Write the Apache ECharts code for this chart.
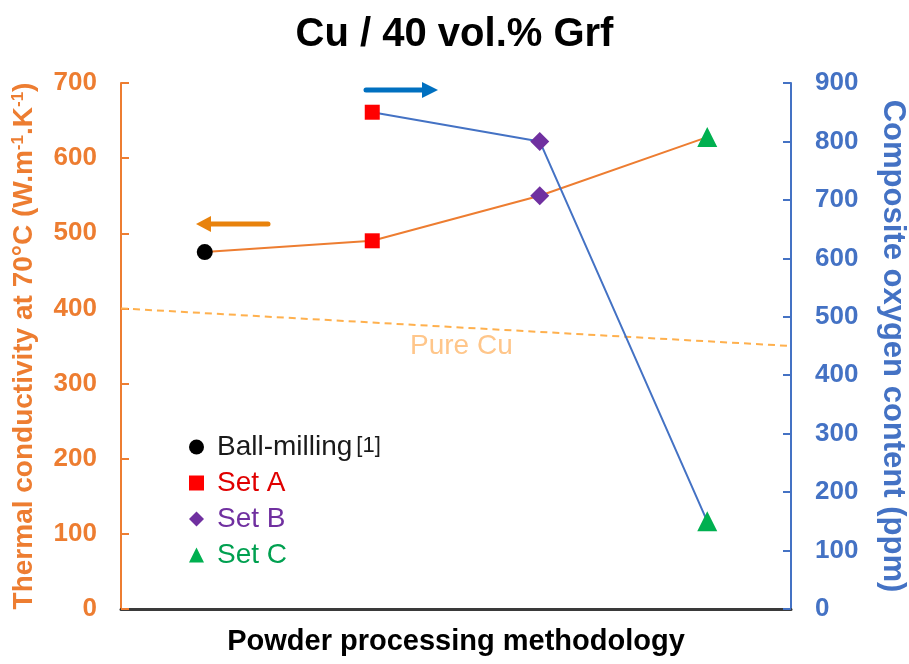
<!DOCTYPE html>
<html>
<head>
<meta charset="utf-8">
<title>Cu / 40 vol.% Grf</title>
<script src="https://cdn.jsdelivr.net/npm/echarts@6/dist/echarts.min.js"></script>
<style>
  html, body { margin: 0; padding: 0; background: #fff; }
  #chart { width: 909px; height: 664px; }
</style>
</head>
<body>
<div id="chart"></div>
<script>
  // values
  const categories = ['Ball-milling', 'Set A', 'Set B', 'Set C'];
  const conductivity = [475, 490, 550, 628]; // left axis, W.m-1.K-1
  const oxygen = [null, 850, 800, 150]; // right axis, ppm
  const pureCu = [400, 350]; // dashed "Pure Cu" line, left end / right end
  const leftMax = 700;
  const rightMax = 900;
  const tickStep = 100;

  const ORANGE = '#ED7D31';
  const BLUE = '#4472C4';
  const FONT = 'Liberation Sans, Arial, sans-serif';

  const markers = [
    { symbol: 'circle', size: 16, color: '#000000', text: '#1a1a1a' },
    { symbol: 'rect', size: 15, color: '#FF0000', text: '#E00000' },
    { symbol: 'diamond', size: 19, color: '#7030A0', text: '#7030A0' },
    { symbol: 'triangle', size: 20, color: '#00B050', text: '#00A050' },
  ];

  const series = [
    {
      type: 'line',
      data: conductivity,
      yAxisIndex: 0,
      symbol: 'none',
      lineStyle: { color: ORANGE, width: 2 },
      z: 2,
    },
    {
      type: 'line',
      data: oxygen,
      yAxisIndex: 1,
      symbol: 'none',
      lineStyle: { color: BLUE, width: 2 },
      z: 2,
    },
    {
      // pure copper reference
      type: 'line',
      xAxisIndex: 1,
      yAxisIndex: 0,
      data: [[0, pureCu[0]], [1, pureCu[1]]],
      symbol: 'none',
      silent: true,
      lineStyle: { color: '#FFB04D', width: 2, type: [7, 5] },
      z: 1,
    },
  ];

  categories.forEach((name, i) => {
    const m = markers[i];
    series.push({
      name: name,
      type: 'scatter',
      yAxisIndex: 0,
      data: [[i, conductivity[i]]],
      symbol: m.symbol,
      symbolSize: m.size,
      itemStyle: { color: m.color, opacity: 1 },
      z: 5,
    });
    if (oxygen[i] != null) {
      series.push({
        name: name,
        type: 'scatter',
        yAxisIndex: 1,
        data: [[i, oxygen[i]]],
        symbol: m.symbol,
        symbolSize: m.size,
        itemStyle: { color: m.color, opacity: 1 },
        z: 5,
      });
    }
  });

  const myChart = echarts.init(document.getElementById('chart'));
  myChart.setOption({
    animation: false,
    textStyle: { fontFamily: FONT },
    title: {
      text: 'Cu / 40 vol.% Grf',
      left: 'center',
      top: 10,
      textStyle: { fontSize: 40, fontWeight: 'bold', color: '#000', fontFamily: FONT },
    },
    grid: { left: 121, right: 118, top: 83, bottom: 55, outerBoundsMode: 'none', containLabel: false },
    legend: {
      orient: 'vertical',
      left: 184,
      top: 428,
      itemWidth: 15,
      itemHeight: 15,
      itemGap: 8,
      selectedMode: false,
      data: categories.map((name, i) => ({
        name: name,
        icon: markers[i].symbol,
        itemStyle: { color: markers[i].color },
        textStyle: { color: markers[i].text },
      })),
      formatter(name) {
        return name === 'Ball-milling' ? '{a|Ball-milling}{b|[1]}' : name;
      },
      textStyle: {
        fontSize: 28,
        fontFamily: FONT,
        padding: [0, 0, 0, 8],
        rich: {
          a: { fontSize: 28, color: '#1a1a1a', fontFamily: FONT },
          b: { fontSize: 22, color: '#1a1a1a', fontFamily: FONT, padding: [0, 0, 2, 4] },
        },
      },
    },
    xAxis: [
      {
        type: 'category',
        data: categories,
        name: 'Powder processing methodology',
        nameLocation: 'middle',
        nameGap: 18,
        nameTextStyle: { fontSize: 29, fontWeight: 'bold', color: '#000', fontFamily: FONT },
        axisLine: { lineStyle: { color: '#3a3a3a', width: 3 } },
        axisTick: { show: false },
        axisLabel: { show: false },
      },
      {
        type: 'value',
        min: 0,
        max: 1,
        show: false,
      },
    ],
    yAxis: [
      {
        type: 'value',
        min: 0,
        max: leftMax,
        interval: tickStep,
        position: 'left',
        name: '{n|Thermal conductivity at 70°C (W.m}{s|-1}{n|.K}{s|-1}{n|)}',
        nameLocation: 'middle',
        nameRotate: 90,
        nameGap: 83,
        nameTextStyle: {
          rich: {
            n: { fontSize: 28, fontWeight: 'bold', color: ORANGE, fontFamily: FONT },
            s: { fontSize: 17, fontWeight: 'bold', color: ORANGE, fontFamily: FONT, verticalAlign: 'top' },
          },
        },
        axisLine: { show: true, lineStyle: { color: ORANGE, width: 2 } },
        axisTick: { show: true, inside: true, length: 8, lineStyle: { color: ORANGE, width: 2 } },
        axisLabel: { margin: 24, fontSize: 26, fontWeight: 'bold', color: ORANGE, fontFamily: FONT },
        splitLine: { show: false },
      },
      {
        type: 'value',
        min: 0,
        max: rightMax,
        interval: tickStep,
        position: 'right',
        name: 'Composite oxygen content (ppm)',
        nameLocation: 'middle',
        nameRotate: -90,
        nameGap: 86,
        nameTextStyle: { fontSize: 31, fontWeight: 'bold', color: BLUE, fontFamily: FONT },
        axisLine: { show: true, lineStyle: { color: BLUE, width: 2 } },
        axisTick: { show: true, inside: true, length: 8, lineStyle: { color: BLUE, width: 2 } },
        axisLabel: { margin: 24, fontSize: 26, fontWeight: 'bold', color: BLUE, fontFamily: FONT },
        splitLine: { show: false },
      },
    ],
    graphic: [
      // "<-" points to left axis
      { type: 'line', shape: { x1: 208, y1: 224, x2: 268, y2: 224 }, style: { stroke: '#E8820C', lineWidth: 5, lineCap: 'round' } },
      { type: 'polygon', shape: { points: [[196, 224], [211, 216], [211, 232]] }, style: { fill: '#E8820C' } },
      // "->" points to right axis
      { type: 'line', shape: { x1: 366, y1: 90, x2: 425, y2: 90 }, style: { stroke: '#0070C0', lineWidth: 5, lineCap: 'round' } },
      { type: 'polygon', shape: { points: [[438, 90], [422, 82], [422, 98]] }, style: { fill: '#0070C0' } },
      {
        type: 'text',
        left: 410,
        top: 332,
        style: { text: 'Pure Cu', fontSize: 28, fill: '#FFC68A', fontFamily: FONT },
      },
    ],
    series: series,
  });
</script>
</body>
</html>
